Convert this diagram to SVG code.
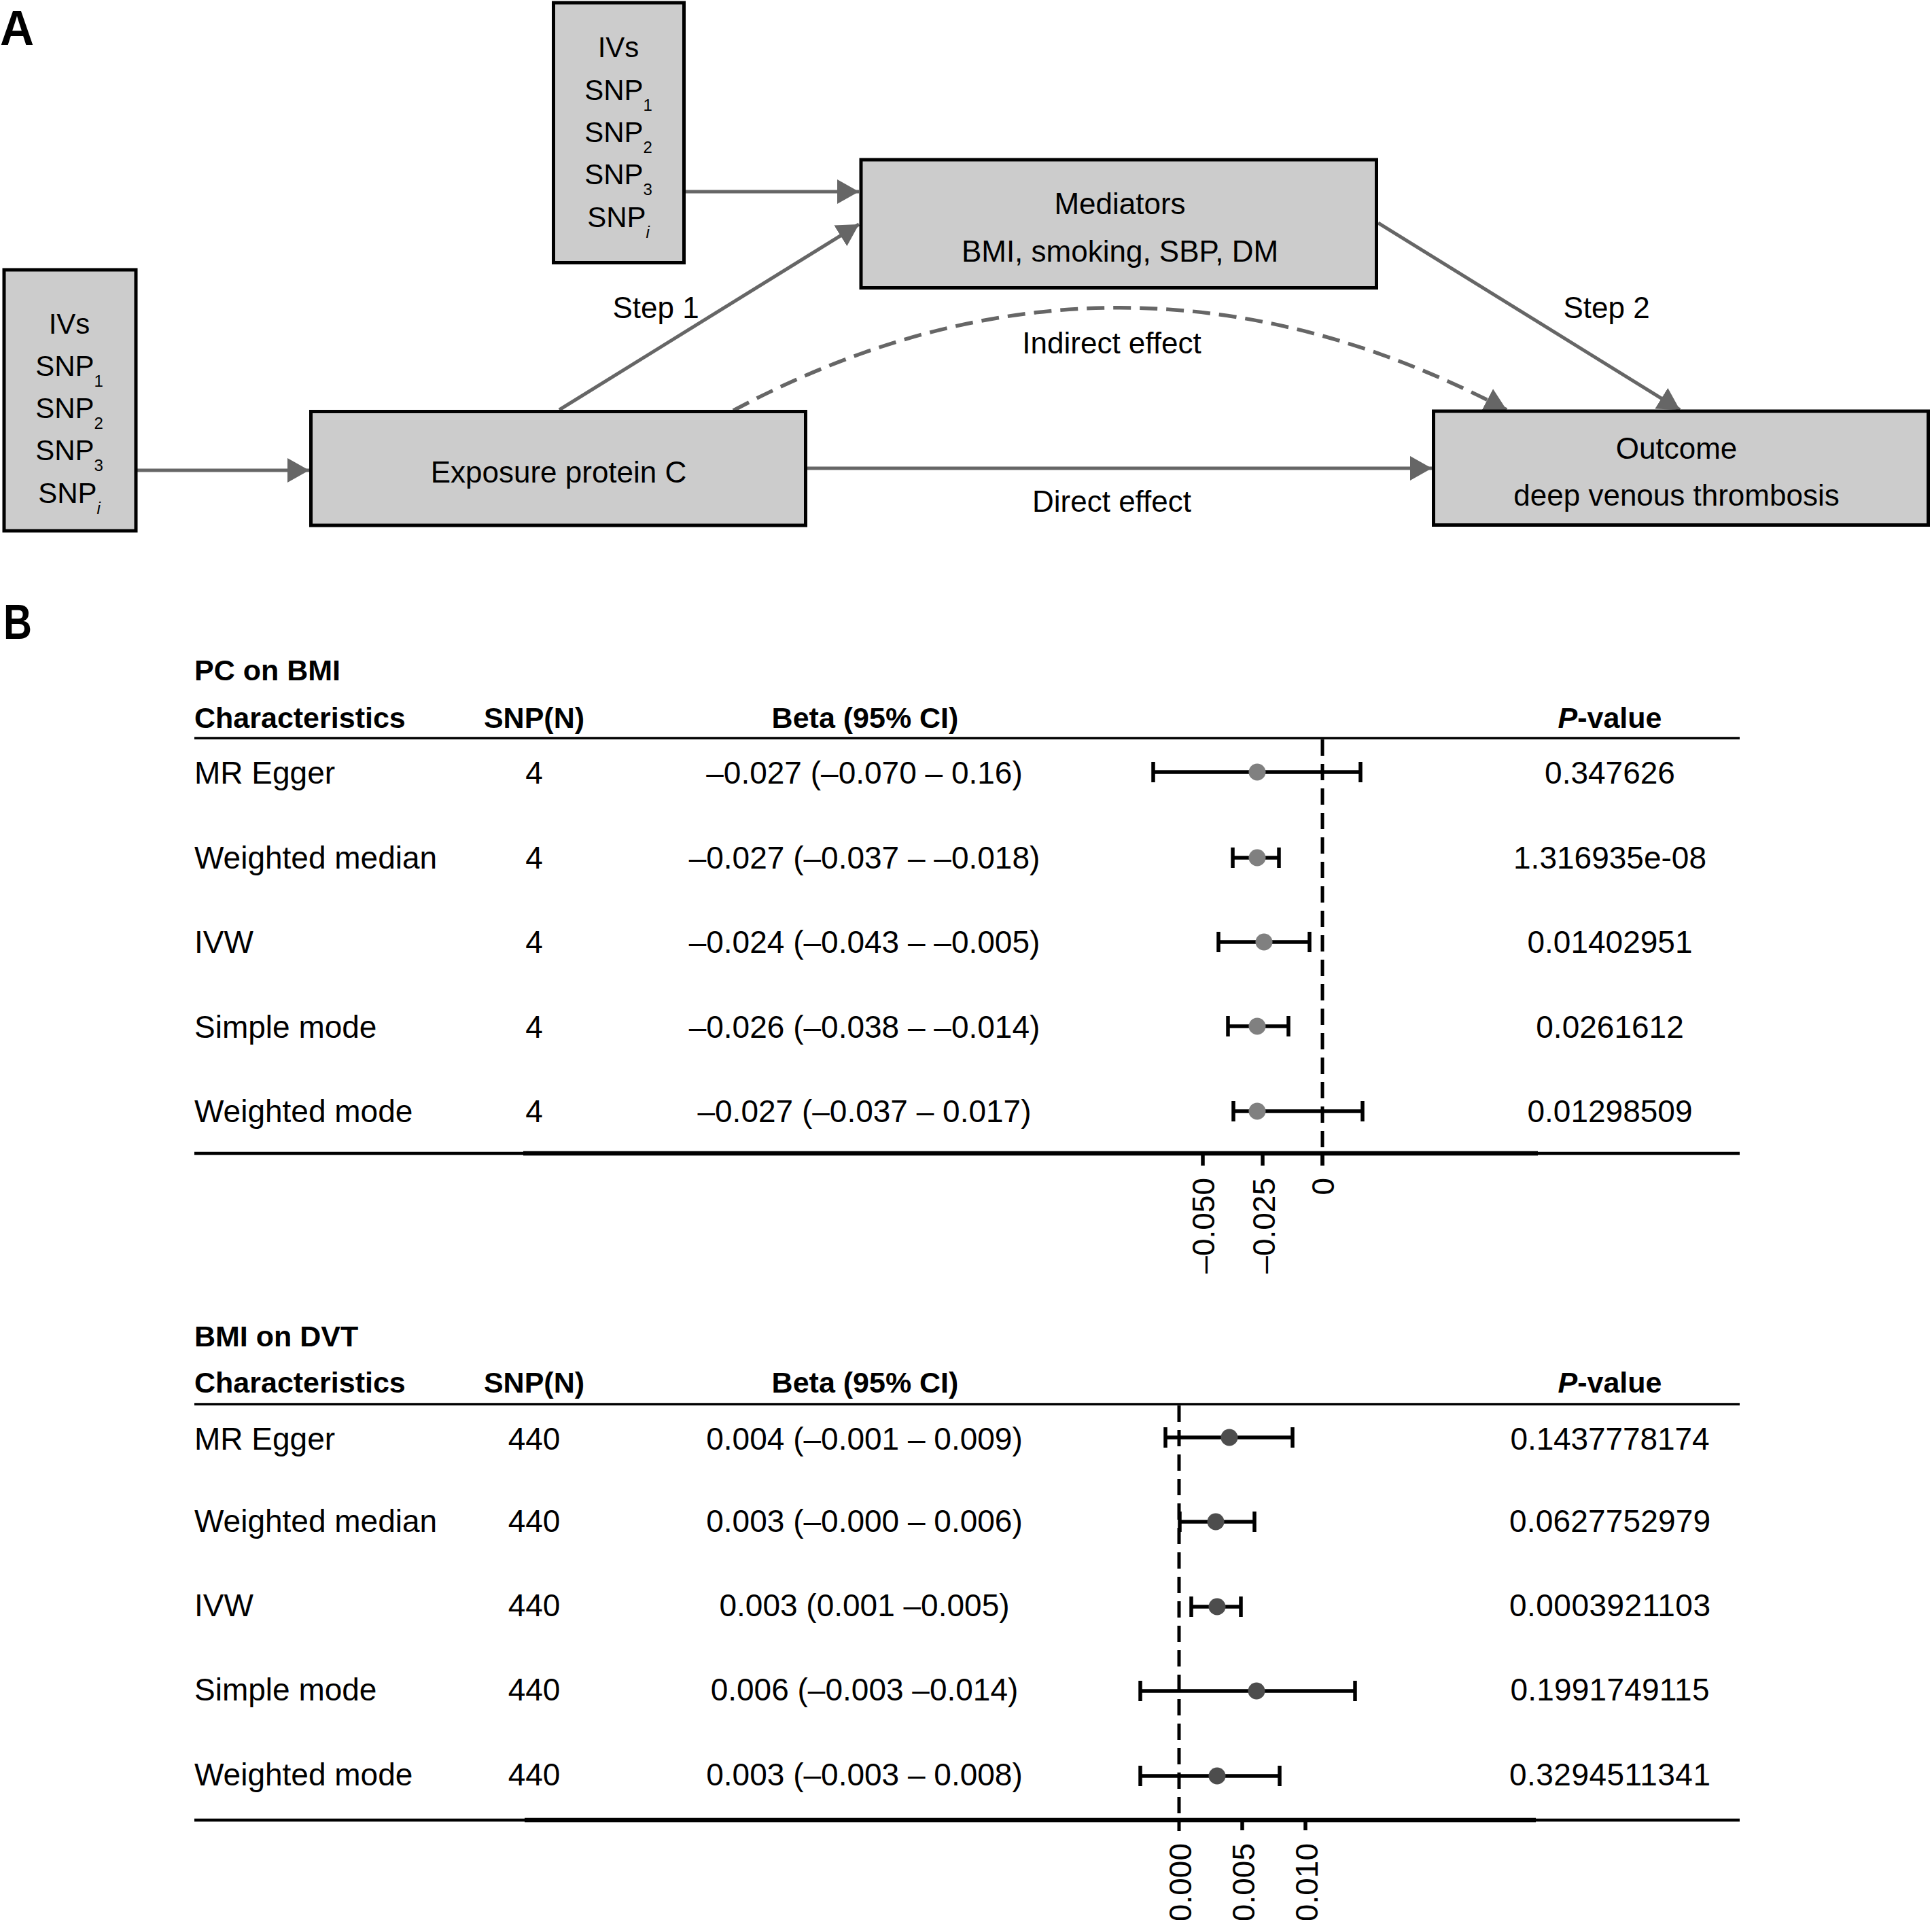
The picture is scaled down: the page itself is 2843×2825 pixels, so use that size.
<svg xmlns="http://www.w3.org/2000/svg" width="2843" height="2825" viewBox="0 0 2843 2825">
<defs>
<style>
.t{font-family:"Liberation Sans",Arial,sans-serif;fill:#000}
.a{font-size:44px;text-anchor:middle}
.iv{font-size:42px;text-anchor:middle}
.sub{font-size:24px}
.lbl{font-size:72px;font-weight:bold}
.box{fill:#cccccc;stroke:#000;stroke-width:5}
.con{fill:none;stroke:#666666;stroke-width:5}
.dash{stroke-dasharray:26 13;stroke-width:5.5}
.hd{font-size:43px;font-weight:bold}
.td{font-size:46px}
.mid{text-anchor:middle}
.rule{stroke:#000;fill:none}
.err{stroke:#000;stroke-width:5.5;fill:none}
.zero{stroke:#000;stroke-width:5;stroke-dasharray:24 12;fill:none}
.tick{font-size:46px;text-anchor:end}
.p1{fill:#808080}
.p2{fill:#4d4d4d}
</style>
<marker id="arr" markerUnits="userSpaceOnUse" markerWidth="32" markerHeight="36" viewBox="0 0 32 36" refX="32" refY="18" orient="auto">
<path d="M0,0 L32,18 L0,36 z" fill="#666666"/>
</marker>
</defs>
<rect width="2843" height="2825" fill="#ffffff"/>

<!-- Panel A -->
<text class="t lbl" x="0" y="66" textLength="50" lengthAdjust="spacingAndGlyphs">A</text>

<g id="connectors">
<path class="con" d="M202,692 L455,692" marker-end="url(#arr)"/>
<path class="con" d="M1009,282 L1264,282" marker-end="url(#arr)"/>
<path class="con" d="M823,603 L1264,330" marker-end="url(#arr)"/>
<path class="con" d="M2028,328 L2472,603" marker-end="url(#arr)"/>
<path class="con" d="M1188,689 L2107,689" marker-end="url(#arr)"/>
<path class="con dash" d="M1079,604 Q1645,302 2217,603" marker-end="url(#arr)"/>
<text class="t a" x="965" y="468">Step 1</text>
<text class="t a" x="2364" y="468">Step 2</text>
<text class="t a" x="1636" y="520">Indirect effect</text>
<text class="t a" x="1636" y="753">Direct effect</text>
</g>

<g id="ivs-left">
<rect class="box" x="6" y="397" width="194" height="384"/>
<text class="t iv" x="102" y="491">IVs</text>
<text class="t iv" x="102" y="553">SNP<tspan class="sub" dy="16">1</tspan></text>
<text class="t iv" x="102" y="615">SNP<tspan class="sub" dy="16">2</tspan></text>
<text class="t iv" x="102" y="677">SNP<tspan class="sub" dy="16">3</tspan></text>
<text class="t iv" x="102" y="740">SNP<tspan class="sub" dy="16" font-style="italic">i</tspan></text>
</g>

<g id="ivs-top">
<rect class="box" x="814.5" y="4" width="192" height="382.5"/>
<text class="t iv" x="910" y="84">IVs</text>
<text class="t iv" x="910" y="147">SNP<tspan class="sub" dy="16">1</tspan></text>
<text class="t iv" x="910" y="209">SNP<tspan class="sub" dy="16">2</tspan></text>
<text class="t iv" x="910" y="271">SNP<tspan class="sub" dy="16">3</tspan></text>
<text class="t iv" x="910" y="334">SNP<tspan class="sub" dy="16" font-style="italic">i</tspan></text>
</g>

<g id="exposure">
<rect class="box" x="457.5" y="605.5" width="728" height="167.5"/>
<text class="t a" x="822" y="710">Exposure protein C</text>
</g>

<g id="mediators">
<rect class="box" x="1267" y="235" width="758.5" height="188.5"/>
<text class="t a" x="1648" y="315">Mediators</text>
<text class="t a" x="1648" y="385">BMI, smoking, SBP, DM</text>
</g>

<g id="outcome">
<rect class="box" x="2109.5" y="605" width="728" height="167.5"/>
<text class="t a" x="2467" y="675">Outcome</text>
<text class="t a" x="2467" y="744">deep venous thrombosis</text>
</g>

<!-- Panel B -->
<text class="t lbl" x="5" y="940" textLength="42" lengthAdjust="spacingAndGlyphs">B</text>

<g id="table-pc-bmi">
<text class="t hd" x="286" y="1001">PC on BMI</text>
<text class="t hd" x="286" y="1071">Characteristics</text>
<text class="t hd mid" x="786" y="1071">SNP(N)</text>
<text class="t hd mid" x="1273" y="1071">Beta (95% CI)</text>
<text class="t hd mid" x="2369" y="1071"><tspan font-style="italic">P</tspan>-value</text>
<line class="rule" x1="286" y1="1086" x2="2560" y2="1086" stroke-width="3.5"/>

<text class="t td" x="286" y="1153">MR Egger</text>
<text class="t td" x="286" y="1278">Weighted median</text>
<text class="t td" x="286" y="1402">IVW</text>
<text class="t td" x="286" y="1527">Simple mode</text>
<text class="t td" x="286" y="1651">Weighted mode</text>

<text class="t td mid" x="786" y="1153">4</text>
<text class="t td mid" x="786" y="1278">4</text>
<text class="t td mid" x="786" y="1402">4</text>
<text class="t td mid" x="786" y="1527">4</text>
<text class="t td mid" x="786" y="1651">4</text>

<text class="t td mid" x="1272" y="1153">–0.027 (–0.070 – 0.16)</text>
<text class="t td mid" x="1272" y="1278">–0.027 (–0.037 – –0.018)</text>
<text class="t td mid" x="1272" y="1402">–0.024 (–0.043 – –0.005)</text>
<text class="t td mid" x="1272" y="1527">–0.026 (–0.038 – –0.014)</text>
<text class="t td mid" x="1272" y="1651">–0.027 (–0.037 – 0.017)</text>

<text class="t td mid" x="2369" y="1153">0.347626</text>
<text class="t td mid" x="2369" y="1278">1.316935e-08</text>
<text class="t td mid" x="2369" y="1402">0.01402951</text>
<text class="t td mid" x="2369" y="1527">0.0261612</text>
<text class="t td mid" x="2369" y="1651">0.01298509</text>

<line class="zero" x1="1946" y1="1088" x2="1946" y2="1715"/>
<path class="err" d="M1697,1136 H2002 M1697,1121 V1151 M2002,1121 V1151"/>
<path class="err" d="M1814,1262 H1882 M1814,1247 V1277 M1882,1247 V1277"/>
<path class="err" d="M1793,1386 H1927 M1793,1371 V1401 M1927,1371 V1401"/>
<path class="err" d="M1807,1510 H1896 M1807,1495 V1525 M1896,1495 V1525"/>
<path class="err" d="M1815,1635 H2005 M1815,1620 V1650 M2005,1620 V1650"/>
<circle class="p1" cx="1850" cy="1136" r="12.5"/>
<circle class="p1" cx="1850" cy="1262" r="12.5"/>
<circle class="p1" cx="1860" cy="1386" r="12.5"/>
<circle class="p1" cx="1850" cy="1510" r="12.5"/>
<circle class="p1" cx="1850" cy="1635" r="12.5"/>

<line class="rule" x1="286" y1="1697" x2="2560" y2="1697" stroke-width="4.5"/>
<line class="rule" x1="770" y1="1697" x2="2263" y2="1697" stroke-width="6.5"/>
<path class="err" d="M1770,1697 V1715 M1858,1697 V1715 M1946,1697 V1715"/>
<text class="t tick" transform="translate(1787,1733) rotate(-90)">–0.050</text>
<text class="t tick" transform="translate(1876,1733) rotate(-90)">–0.025</text>
<text class="t tick" transform="translate(1963,1733) rotate(-90)">0</text>
</g>

<g id="table-bmi-dvt">
<text class="t hd" x="286" y="1981">BMI on DVT</text>
<text class="t hd" x="286" y="2049">Characteristics</text>
<text class="t hd mid" x="786" y="2049">SNP(N)</text>
<text class="t hd mid" x="1273" y="2049">Beta (95% CI)</text>
<text class="t hd mid" x="2369" y="2049"><tspan font-style="italic">P</tspan>-value</text>
<line class="rule" x1="286" y1="2066" x2="2560" y2="2066" stroke-width="3.5"/>

<text class="t td" x="286" y="2133">MR Egger</text>
<text class="t td" x="286" y="2254">Weighted median</text>
<text class="t td" x="286" y="2378">IVW</text>
<text class="t td" x="286" y="2502">Simple mode</text>
<text class="t td" x="286" y="2627">Weighted mode</text>

<text class="t td mid" x="786" y="2133">440</text>
<text class="t td mid" x="786" y="2254">440</text>
<text class="t td mid" x="786" y="2378">440</text>
<text class="t td mid" x="786" y="2502">440</text>
<text class="t td mid" x="786" y="2627">440</text>

<text class="t td mid" x="1272" y="2133">0.004 (–0.001 – 0.009)</text>
<text class="t td mid" x="1272" y="2254">0.003 (–0.000 – 0.006)</text>
<text class="t td mid" x="1272" y="2378">0.003 (0.001 –0.005)</text>
<text class="t td mid" x="1272" y="2502">0.006 (–0.003 –0.014)</text>
<text class="t td mid" x="1272" y="2627">0.003 (–0.003 – 0.008)</text>

<text class="t td mid" x="2369" y="2133" textLength="293">0.1437778174</text>
<text class="t td mid" x="2369" y="2254" textLength="296">0.0627752979</text>
<text class="t td mid" x="2369" y="2378" textLength="296">0.0003921103</text>
<text class="t td mid" x="2369" y="2502" textLength="293">0.1991749115</text>
<text class="t td mid" x="2369" y="2627" textLength="296">0.3294511341</text>

<line class="zero" x1="1735" y1="2068" x2="1735" y2="2694"/>
<path class="err" d="M1715,2115 H1902 M1715,2100 V2130 M1902,2100 V2130"/>
<path class="err" d="M1736,2239 H1846 M1736,2224 V2254 M1846,2224 V2254"/>
<path class="err" d="M1753,2364 H1826 M1753,2349 V2379 M1826,2349 V2379"/>
<path class="err" d="M1678,2488 H1994 M1678,2473 V2503 M1994,2473 V2503"/>
<path class="err" d="M1678,2613 H1883 M1678,2598 V2628 M1883,2598 V2628"/>
<circle class="p2" cx="1809" cy="2115" r="12.5"/>
<circle class="p2" cx="1789" cy="2239" r="12.5"/>
<circle class="p2" cx="1791" cy="2364" r="12.5"/>
<circle class="p2" cx="1849" cy="2488" r="12.5"/>
<circle class="p2" cx="1791" cy="2613" r="12.5"/>

<line class="rule" x1="286" y1="2678" x2="2560" y2="2678" stroke-width="4.5"/>
<line class="rule" x1="772" y1="2678" x2="2260" y2="2678" stroke-width="6.5"/>
<path class="err" d="M1828,2678 V2693 M1921,2678 V2693"/>
<text class="t tick" transform="translate(1753,2712) rotate(-90)">0.000</text>
<text class="t tick" transform="translate(1846,2712) rotate(-90)">0.005</text>
<text class="t tick" transform="translate(1939,2712) rotate(-90)">0.010</text>
</g>
</svg>
